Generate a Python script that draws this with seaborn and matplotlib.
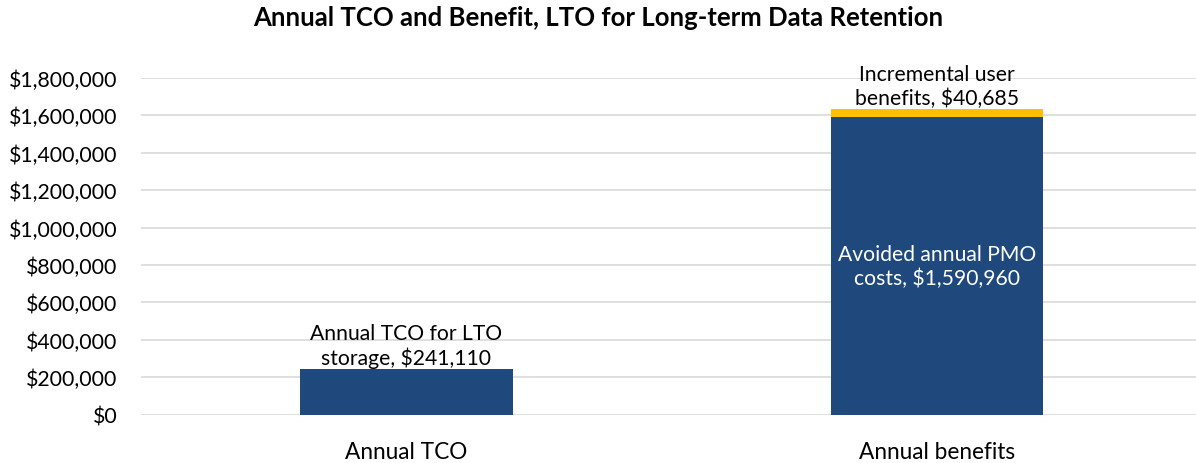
import matplotlib
matplotlib.use("Agg")
import matplotlib.pyplot as plt
import matplotlib.ticker as mticker
import seaborn as sns
import pandas as pd

categories = ["Annual TCO", "Annual benefits"]
tco_value = 241110
pmo_costs = 1590960
incremental_benefits = 40685
base_values = [tco_value, pmo_costs]
top_values = [0, incremental_benefits]
label_texts = ["Annual TCO for LTO\nstorage, $241,110",
               "Avoided annual PMO\ncosts, $1,590,960",
               "Incremental user\nbenefits, $40,685"]
title = "Annual TCO and Benefit, LTO for Long-term Data Retention"

NAVY = "#1F497D"
GOLD = "#FFC000"

sns.set_theme(style="white")
plt.rcParams['font.family'] = ['Lato', 'DejaVu Sans']

fig = plt.figure(figsize=(11.96, 4.64), dpi=100)
ax = fig.add_axes([141/1196, 1 - 415.5/464, (1196-141)/1196, (415.5-79)/464])

totals = [b + t for b, t in zip(base_values, top_values)]
df_tot = pd.DataFrame({"cat": categories, "val": totals})
df_base = pd.DataFrame({"cat": categories, "val": base_values})

sns.barplot(data=df_tot, x="cat", y="val", hue="cat", palette=[NAVY, GOLD],
            width=0.4, legend=False, ax=ax, saturation=1, zorder=2, linewidth=0)
sns.barplot(data=df_base, x="cat", y="val", color=NAVY,
            width=0.4, ax=ax, saturation=1, zorder=3, linewidth=0)

ax.set_ylim(0, 1800000)
ax.set_xlim(-0.5, (1196 - 406) / 531)
ax.yaxis.set_major_locator(mticker.MultipleLocator(200000))
ax.yaxis.set_major_formatter(mticker.FuncFormatter(lambda v, p: f"${v:,.0f}"))
ax.grid(axis="y", color="#D9D9D9", linewidth=1.2, zorder=0)
ax.set_axisbelow(True)
for s in ax.spines.values():
    s.set_visible(False)
ax.set_xlabel("")
ax.set_ylabel("")
ax.tick_params(axis="y", labelsize=15.3, length=0, pad=17, colors="#000000")
ax.tick_params(axis="x", labelsize=16.3, length=0, pad=19, colors="#000000")

# data labels
ax.text(0, tco_value + 10000, label_texts[0], ha="center", va="bottom",
        fontsize=15.2, linespacing=1.2, color="black")
ax.text(1, pmo_costs / 2, label_texts[1], ha="center", va="center",
        fontsize=15.2, linespacing=1.2, color="white")
ax.text(1, pmo_costs + incremental_benefits + 10000, label_texts[2], ha="center",
        va="bottom", fontsize=15.2, linespacing=1.2, color="black", clip_on=False)

fig.text(0.5, 1 - 18/464, title, ha="center", va="center", fontsize=18.5,
         fontweight="bold", color="black")

fig.savefig("out.png", dpi=100)
